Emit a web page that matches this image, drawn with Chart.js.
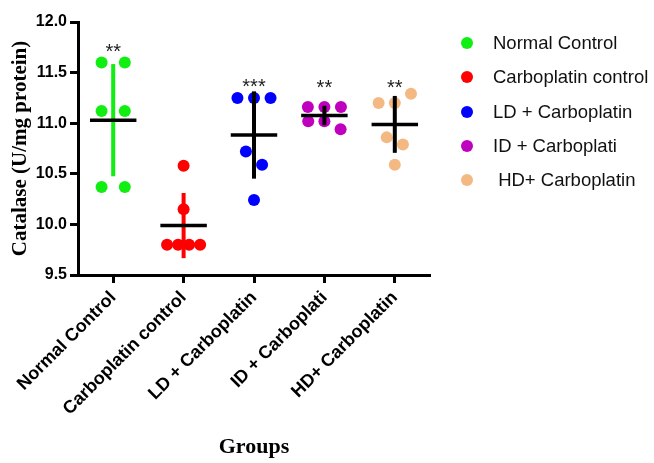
<!DOCTYPE html>
<html>
<head>
<meta charset="utf-8">
<script src="https://cdn.jsdelivr.net/npm/chart.js@4/dist/chart.umd.min.js"></script>
<style>
  body { margin: 0; background: #fff; }
  #wrap { position: relative; width: 654px; height: 463px; }
  #legend { position: absolute; left: 461px; top: 26px; font-family: "Liberation Sans", Arial, sans-serif; font-size: 18.5px; color: #111; }
  #legend .item { height: 34.3px; display: flex; align-items: center; white-space: pre; }
  #legend .dot { width: 12px; height: 12px; border-radius: 50%; margin-right: 20px; }
</style>
</head>
<body>
<div id="wrap">
  <canvas id="chart1" width="654" height="463"></canvas>
  <div id="legend"></div>
</div>
<script>
const groups = ["Normal Control", "Carboplatin control", "LD + Carboplatin", "ID + Carboplati", "HD+ Carboplatin"];
const legendNames = ["Normal Control", "Carboplatin control", "LD + Carboplatin", "ID + Carboplati", " HD+ Carboplatin"];
const colors = ["#11ee11", "#ff0000", "#0000ff", "#bf00bf", "#f4b983"];

// catalase values per group (U/mg protein)
const normalControl = [11.60, 11.60, 11.12, 11.12, 10.37, 10.37];
const carboplatinControl = [10.58, 10.15, 9.80, 9.80, 9.80, 9.80];
const ldCarboplatin = [11.25, 11.25, 11.25, 10.72, 10.59, 10.24];
const idCarboplatin = [11.16, 11.16, 11.16, 11.02, 11.02, 10.94];
const hdCarboplatin = [11.20, 11.20, 11.29, 10.86, 10.79, 10.59];

const stars = ["**", "", "***", "**", "**"];
const starLevels = [11.72, null, 11.37, 11.36, 11.36];

const values = [normalControl, carboplatinControl, ldCarboplatin, idCarboplatin, hdCarboplatin];

const mean = function (arr) {
  return arr.reduce((a, b) => a + b, 0) / arr.length;
};

const sd = function (arr) {
  const m = mean(arr);
  let s = 0;
  arr.forEach((v) => { s += (v - m) * (v - m); });
  return Math.sqrt(s / (arr.length - 1));
};

// spread points with close values side by side
const spread = function (arr, center) {
  let rows = [];
  arr.forEach((v) => {
    let row = rows[rows.length - 1];
    if (row && (row[0] === v || (Math.abs(row[0] - v) < 0.15 && row.length < 3))) {
      row.push(v);
    } else {
      rows.push([v]);
    }
  });
  let points = [];
  rows.forEach((row) => {
    const n = row.length;
    const same = row.every((v) => v === row[0]);
    const step = n > 1 ? Math.min(same ? 0.33 : 0.23, 0.47 / (n - 1)) : 0;
    row.forEach((v, k) => {
      points.push({ x: center + (k - (n - 1) / 2) * step, y: v });
    });
  });
  return points;
};

let datasets = [];
values.forEach((arr, i) => {
  const m = mean(arr);
  const s = sd(arr);
  datasets.push({
    data: [{ x: i - 0.33, y: m }, { x: i + 0.33, y: m }],
    showLine: true, borderColor: "#000", borderWidth: 3.5, pointRadius: 0, order: 1,
  });
  datasets.push({
    data: [{ x: i, y: m - s }, { x: i, y: m + s }],
    showLine: true, borderColor: i < 2 ? colors[i] : "#000", borderWidth: 4, pointRadius: 0, order: 2,
  });
  datasets.push({
    data: spread(arr, i),
    backgroundColor: colors[i], borderWidth: 0, pointRadius: 6, order: 3,
  });
});

const starPlugin = {
  id: "stars",
  afterDatasetsDraw(chart) {
    const ctx = chart.ctx;
    ctx.save();
    ctx.font = "20px 'Liberation Sans', Arial";
    ctx.fillStyle = "#222";
    ctx.textAlign = "center";
    ctx.textBaseline = "middle";
    stars.forEach((t, i) => {
      if (!t) return;
      ctx.fillText(t, chart.scales.x.getPixelForValue(i), chart.scales.y.getPixelForValue(starLevels[i]) + 2);
    });
    ctx.restore();
  },
};

new Chart(document.getElementById("chart1"), {
  type: "scatter",
  data: { datasets: datasets },
  plugins: [starPlugin],
  options: {
    responsive: false,
    animation: false,
    layout: { padding: { top: 22, right: 224, bottom: 0, left: 0 } },
    plugins: { legend: { display: false }, tooltip: { enabled: false } },
    scales: {
      x: {
        type: "linear",
        min: -0.5,
        max: 4.5,
        afterBuildTicks: (s) => { s.ticks = groups.map((g, i) => ({ value: i })); },
        afterFit: (s) => { s.height = 188; },
        grid: { drawOnChartArea: false, tickLength: 8, tickWidth: 3, tickColor: "#000" },
        border: { color: "#000", width: 3 },
        ticks: {
          autoSkip: false, minRotation: 45, maxRotation: 45, padding: 4,
          color: "#000",
          font: { family: "'Liberation Sans', Arial", size: 18, weight: "bold" },
          callback: (v) => groups[v],
        },
        title: {
          display: true, text: "Groups", color: "#000",
          font: { family: "'Liberation Serif', 'Times New Roman'", size: 22, weight: "bold" },
          padding: { top: 4, bottom: 2 },
        },
      },
      y: {
        min: 9.5,
        max: 12,
        afterFit: (s) => { s.width = 78; },
        grid: { drawOnChartArea: false, tickLength: 8, tickWidth: 3, tickColor: "#000" },
        border: { color: "#000", width: 3 },
        ticks: {
          stepSize: 0.5, padding: 3, color: "#000",
          font: { family: "'Liberation Sans', Arial", size: 16, weight: "bold" },
          callback: (v) => v.toFixed(1),
        },
        title: {
          display: true, text: "Catalase (U/mg protein)", color: "#000",
          font: { family: "'Liberation Serif', 'Times New Roman'", size: 21, weight: "bold" },
          padding: { top: 8, bottom: 4 },
        },
      },
    },
  },
});

const legend = document.getElementById("legend");
legendNames.forEach((name, i) => {
  const item = document.createElement("div");
  item.className = "item";
  item.innerHTML = '<span class="dot" style="background:' + colors[i] + '"></span><span>' + name + "</span>";
  legend.appendChild(item);
});
</script>
</body>
</html>
